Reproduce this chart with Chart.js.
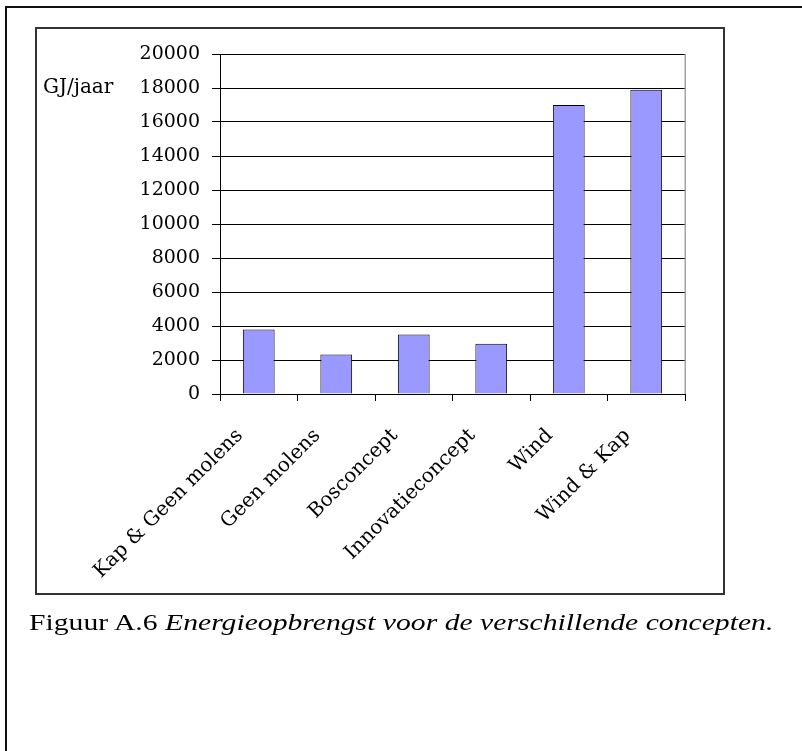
<!DOCTYPE html>
<html>
<head>
<meta charset="utf-8">
<script src="https://cdn.jsdelivr.net/npm/chart.js@4/dist/chart.umd.min.js"></script>
<style>
  html, body { margin: 0; padding: 0; background: #fff; }
  body { width: 802px; height: 751px; position: relative; overflow: hidden; }
  .rule-top { position: absolute; left: 5px; top: 6px; width: 797px; height: 2px; background: #111; }
  .rule-left { position: absolute; left: 5px; top: 6px; width: 2px; height: 745px; background: #111; }
  .frame { position: absolute; left: 35px; top: 27px; width: 690px; height: 568px;
           border: 2px solid #333; box-sizing: border-box; }
  #chart { position: absolute; left: 0; top: 0; }
  .caption { position: absolute; left: 29px; top: 611px; font-family: "Liberation Serif", serif;
             font-size: 23px; line-height: 23px; color: #000; white-space: nowrap;
             transform: scaleX(1.29); transform-origin: left top; }
  .caption i { font-style: italic; }
</style>
</head>
<body>
<div class="rule-top"></div>
<div class="rule-left"></div>
<div class="frame"></div>
<canvas id="chart" width="802" height="751"></canvas>
<div class="caption">Figuur A.6 <i>Energieopbrengst voor de verschillende concepten.</i></div>

<script>
// Energy yield per concept (GJ per year)
const categories = ['Kap & Geen molens', 'Geen molens', 'Bosconcept', 'Innovatieconcept', 'Wind', 'Wind & Kap'];
const energyGJ = [3800, 2330, 3500, 2950, 17000, 17900];
const yMin = 0;
const yMax = 20000;
const yStep = 2000;
const unitLabel = 'GJ/jaar';
const unitAtValue = 18000;

const serif = 'DejaVu Serif';

// Grey right edge of the plot area and the unit label left of the value axis
const plotExtras = {
  id: 'plotExtras',
  afterDraw(chart) {
    const { ctx, chartArea } = chart;
    const y = chart.scales.y;
    ctx.save();
    ctx.strokeStyle = '#a3a3a3';
    ctx.lineWidth = 1.5;
    ctx.beginPath();
    ctx.moveTo(chartArea.right + 0.25, chartArea.top);
    ctx.lineTo(chartArea.right + 0.25, chartArea.bottom);
    ctx.stroke();

    ctx.fillStyle = '#000';
    ctx.font = '20px "' + serif + '"';
    ctx.textAlign = 'left';
    ctx.textBaseline = 'middle';
    ctx.fillText(unitLabel, 43, y.getPixelForValue(unitAtValue));
    ctx.restore();
  }
};

new Chart(document.getElementById('chart'), {
  type: 'bar',
  data: {
    labels: categories,
    datasets: [{
      data: energyGJ,
      backgroundColor: '#9999ff',
      borderColor: '#000',
      borderWidth: 1,
      categoryPercentage: 1,
      barPercentage: 0.41
    }]
  },
  options: {
    responsive: false,
    animation: false,
    layout: { padding: { left: 0, top: 54, right: 117, bottom: 157 } },
    plugins: { legend: { display: false }, tooltip: { enabled: false } },
    scales: {
      x: {
        grid: { drawOnChartArea: false, drawTicks: true, tickLength: 7, color: '#000', offset: true },
        border: { color: '#000', width: 1 },
        ticks: {
          autoSkip: false, minRotation: 45, maxRotation: 45,
          color: '#000', font: { family: serif, size: 20 },
          padding: 23, labelOffset: -19
        },
        afterFit(scale) { scale.height = 200; }
      },
      y: {
        min: yMin, max: yMax,
        ticks: {
          stepSize: yStep, color: '#000', font: { family: serif, size: 19 }, padding: 12,
          callback: (v) => String(v)
        },
        grid: { color: '#000', lineWidth: 1, tickLength: 8 },
        border: { color: '#000', width: 1 },
        afterFit(scale) { scale.width = 220; }
      }
    }
  },
  plugins: [plotExtras]
});
</script>
</body>
</html>
